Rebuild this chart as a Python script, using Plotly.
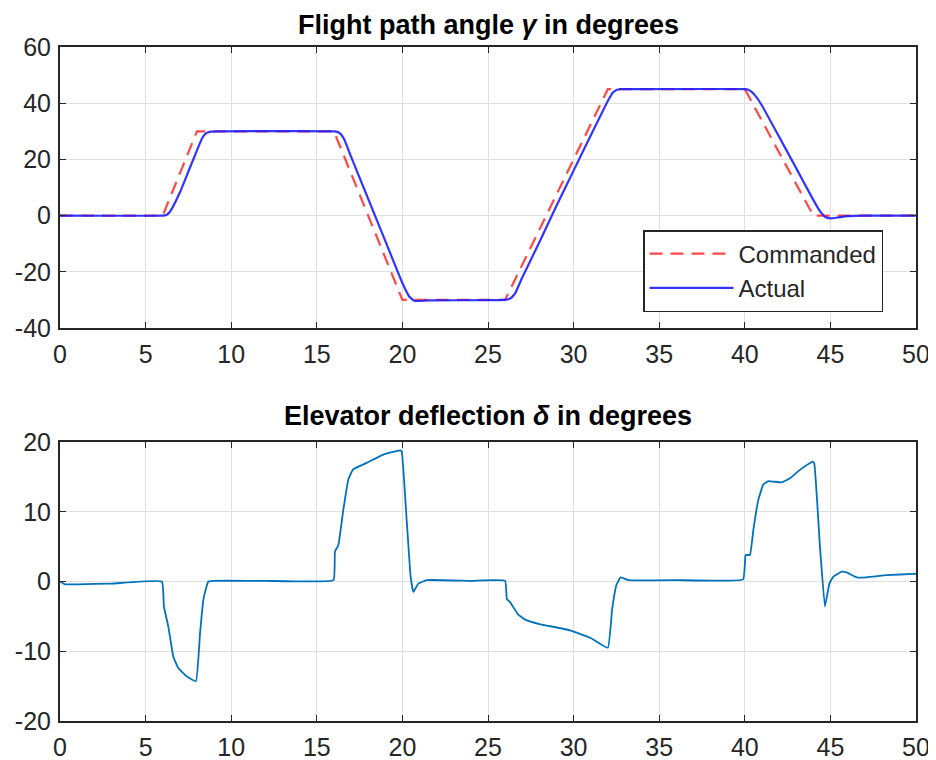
import plotly.graph_objects as go
from plotly.subplots import make_subplots

# ---- data ----
t_cmd = [0, 6, 8, 16, 20, 26, 32, 40, 44, 50]
gamma_cmd = [0, 0, 30, 30, -30, -30, 45, 45, 0, 0]

t_act = [0, 6.0, 6.2, 6.4, 6.6, 7.0, 7.5, 8.0, 8.3, 8.5, 8.8, 9.2, 16.0, 16.2, 16.4, 16.6, 17, 18, 19, 20,
         20.4, 20.7, 21.0, 21.5, 26.0, 26.2, 26.4, 26.6, 27, 28, 29, 30, 31, 32, 32.3, 32.5, 32.8, 33.3,
         40.0, 40.2, 40.4, 40.7, 41, 42, 43, 44, 44.4, 44.7, 45.0, 45.5, 46, 47, 50]
gamma_act = [0, 0, 0.2, 1.2, 3.2, 8.2, 15.7, 23.2, 27.5, 29.2, 29.9, 30, 30, 29.8, 29.0, 27.2, 21, 6, -9, -24,
             -28.8, -30.3, -30.4, -30.2, -30, -29.8, -29.0, -27.5, -22, -9.5, 3.5, 16, 28.5, 40.8, 43.8, 44.7, 45.0, 45.0,
             45, 44.8, 44.0, 42.0, 39.2, 28.1, 16.9, 5.6, 1.5, -0.5, -1.0, -0.6, -0.2, 0, 0]

t_elev = [0, 0.3, 1, 3, 5.95, 6.07, 6.33, 6.62, 6.91, 7.4, 7.94, 8.18, 8.37, 8.55, 8.67, 8.96, 12, 15.97,
          16.06, 16.26, 16.55, 16.84, 17.13, 17.91, 18.89, 19.86, 19.96, 20.25, 20.48, 20.64, 20.93, 21.42, 24,
          26.0, 26.1, 26.3, 26.75, 27.2, 28, 29.8, 31, 32, 32.25, 32.5, 32.75, 33.2, 36, 39.9,
          40.05, 40.3, 40.5, 40.79, 41.08, 41.37, 42.15, 42.64, 43.22, 43.96, 44.06, 44.39, 44.68, 44.94,
          45.17, 45.66, 45.95, 46.54, 47.1, 48.3, 49.84, 50]
delta = [0, -0.4, -0.4, -0.3, 0, -3.6, -6.5, -10.8, -12.4, -13.6, -14.3, -7.4, -2.7, -0.8, 0, 0.1, 0.1, 0.2,
         4.3, 5.2, 10.3, 14.6, 16.1, 17.0, 18.2, 18.8, 18.6, 8.8, 0.7, -1.5, -0.3, 0.2, 0.1,
         0.1, -2.5, -3.0, -4.7, -5.5, -6.1, -7.0, -8.1, -9.5, -4.0, -0.5, 0.6, 0.2, 0.2, 0.3,
         3.8, 3.8, 7.4, 11.7, 13.9, 14.4, 14.2, 14.8, 16.0, 17.2, 16.9, 5.0, -3.6, -0.3,
         0.7, 1.4, 1.3, 0.6, 0.6, 0.9, 1.1, 1.1]

x_ticks = [0, 5, 10, 15, 20, 25, 30, 35, 40, 45, 50]
x_ticktext = ["0", "5", "10", "15", "20", "25", "30", "35", "40", "45", "50"]
y1_ticks = [-40, -20, 0, 20, 40, 60]
y1_ticktext = ["-40", "-20", "0", "20", "40", "60"]
y2_ticks = [-20, -10, 0, 10, 20]
y2_ticktext = ["-20", "-10", "0", "10", "20"]

title1 = "<b>Flight path angle <i>γ</i> in degrees</b>"
title2 = "<b>Elevator deflection <i>δ</i> in degrees</b>"

# ---- figure ----
FONT = "Liberation Sans, Arial, Helvetica, sans-serif"
AX = "#262626"
GRID = "#e0e0e0"

OFF = 8  # page body margin offset
W, H = 936 - OFF, 760 - OFF
ML, MR, MT, MB = 60 - OFF, 20, 47 - OFF, 39
plot_h = H - MT - MB
plot_w = W - ML - MR


def ypaper(px):
    # px = screen pixel y in the photographed page
    return (H - MB - (px - OFF)) / plot_h


def xpaper(px):
    return (px - OFF - ML) / plot_w


fig = make_subplots(rows=2, cols=1, vertical_spacing=0.0)

fig.add_trace(go.Scatter(x=t_cmd, y=gamma_cmd, mode="lines", name="Commanded",
                         line=dict(color="rgba(255,40,40,0.85)", width=2.2, dash="13px,8px")), row=1, col=1)
fig.add_trace(go.Scatter(x=t_act, y=gamma_act, mode="lines", name="Actual",
                         line=dict(color="rgba(30,30,255,0.9)", width=2.2, shape="spline", smoothing=0.4)),
              row=1, col=1)
fig.add_trace(go.Scatter(x=t_elev, y=delta, mode="lines", name="delta", showlegend=False,
                         line=dict(color="#0072BD", width=1.8, shape="spline", smoothing=0.3)), row=2, col=1)

axis_common = dict(showline=True, linecolor=AX, linewidth=2, mirror="ticks",
                   ticks="inside", ticklen=6, tickcolor=AX, tickwidth=1,
                   showgrid=True, gridcolor=GRID, gridwidth=1, zeroline=False, automargin=False,
                   tickfont=dict(family=FONT, size=25, color=AX))

fig.update_xaxes(**axis_common, range=[0, 50], tickvals=x_ticks, ticktext=x_ticktext, ticklabelstandoff=3)
fig.update_yaxes(**axis_common, ticklabelstandoff=2)
fig.update_yaxes(range=[-40, 60], tickvals=y1_ticks, ticktext=y1_ticktext, row=1, col=1)
fig.update_yaxes(range=[-20, 20], tickvals=y2_ticks, ticktext=y2_ticktext, row=2, col=1)

fig.update_layout(
    width=W, height=H,
    margin=dict(l=ML, r=MR, t=MT, b=MB, autoexpand=False),
    paper_bgcolor="white", plot_bgcolor="white",
    font=dict(family=FONT, color="#000000"),
    xaxis=dict(domain=[0, 1]),
    yaxis=dict(domain=[ypaper(328), 1.0]),
    xaxis2=dict(domain=[0, 1]),
    yaxis2=dict(domain=[0.0, ypaper(442)]),
    showlegend=True,
    legend=dict(x=xpaper(643), y=ypaper(230), xref="paper", yref="paper",
                xanchor="left", yanchor="top",
                bgcolor="white", bordercolor=AX, borderwidth=1.5,
                font=dict(family=FONT, size=24, color=AX),
                itemwidth=84, tracegroupgap=0),
    annotations=[
        dict(text=title1, x=0.5, xref="paper", y=ypaper(25), yref="paper", yanchor="middle",
             showarrow=False, font=dict(family=FONT, size=27, color="black")),
        dict(text=title2, x=0.5, xref="paper", y=ypaper(416), yref="paper", yanchor="middle",
             showarrow=False, font=dict(family=FONT, size=27, color="black")),
    ],
)

fig.write_html("out.html")
